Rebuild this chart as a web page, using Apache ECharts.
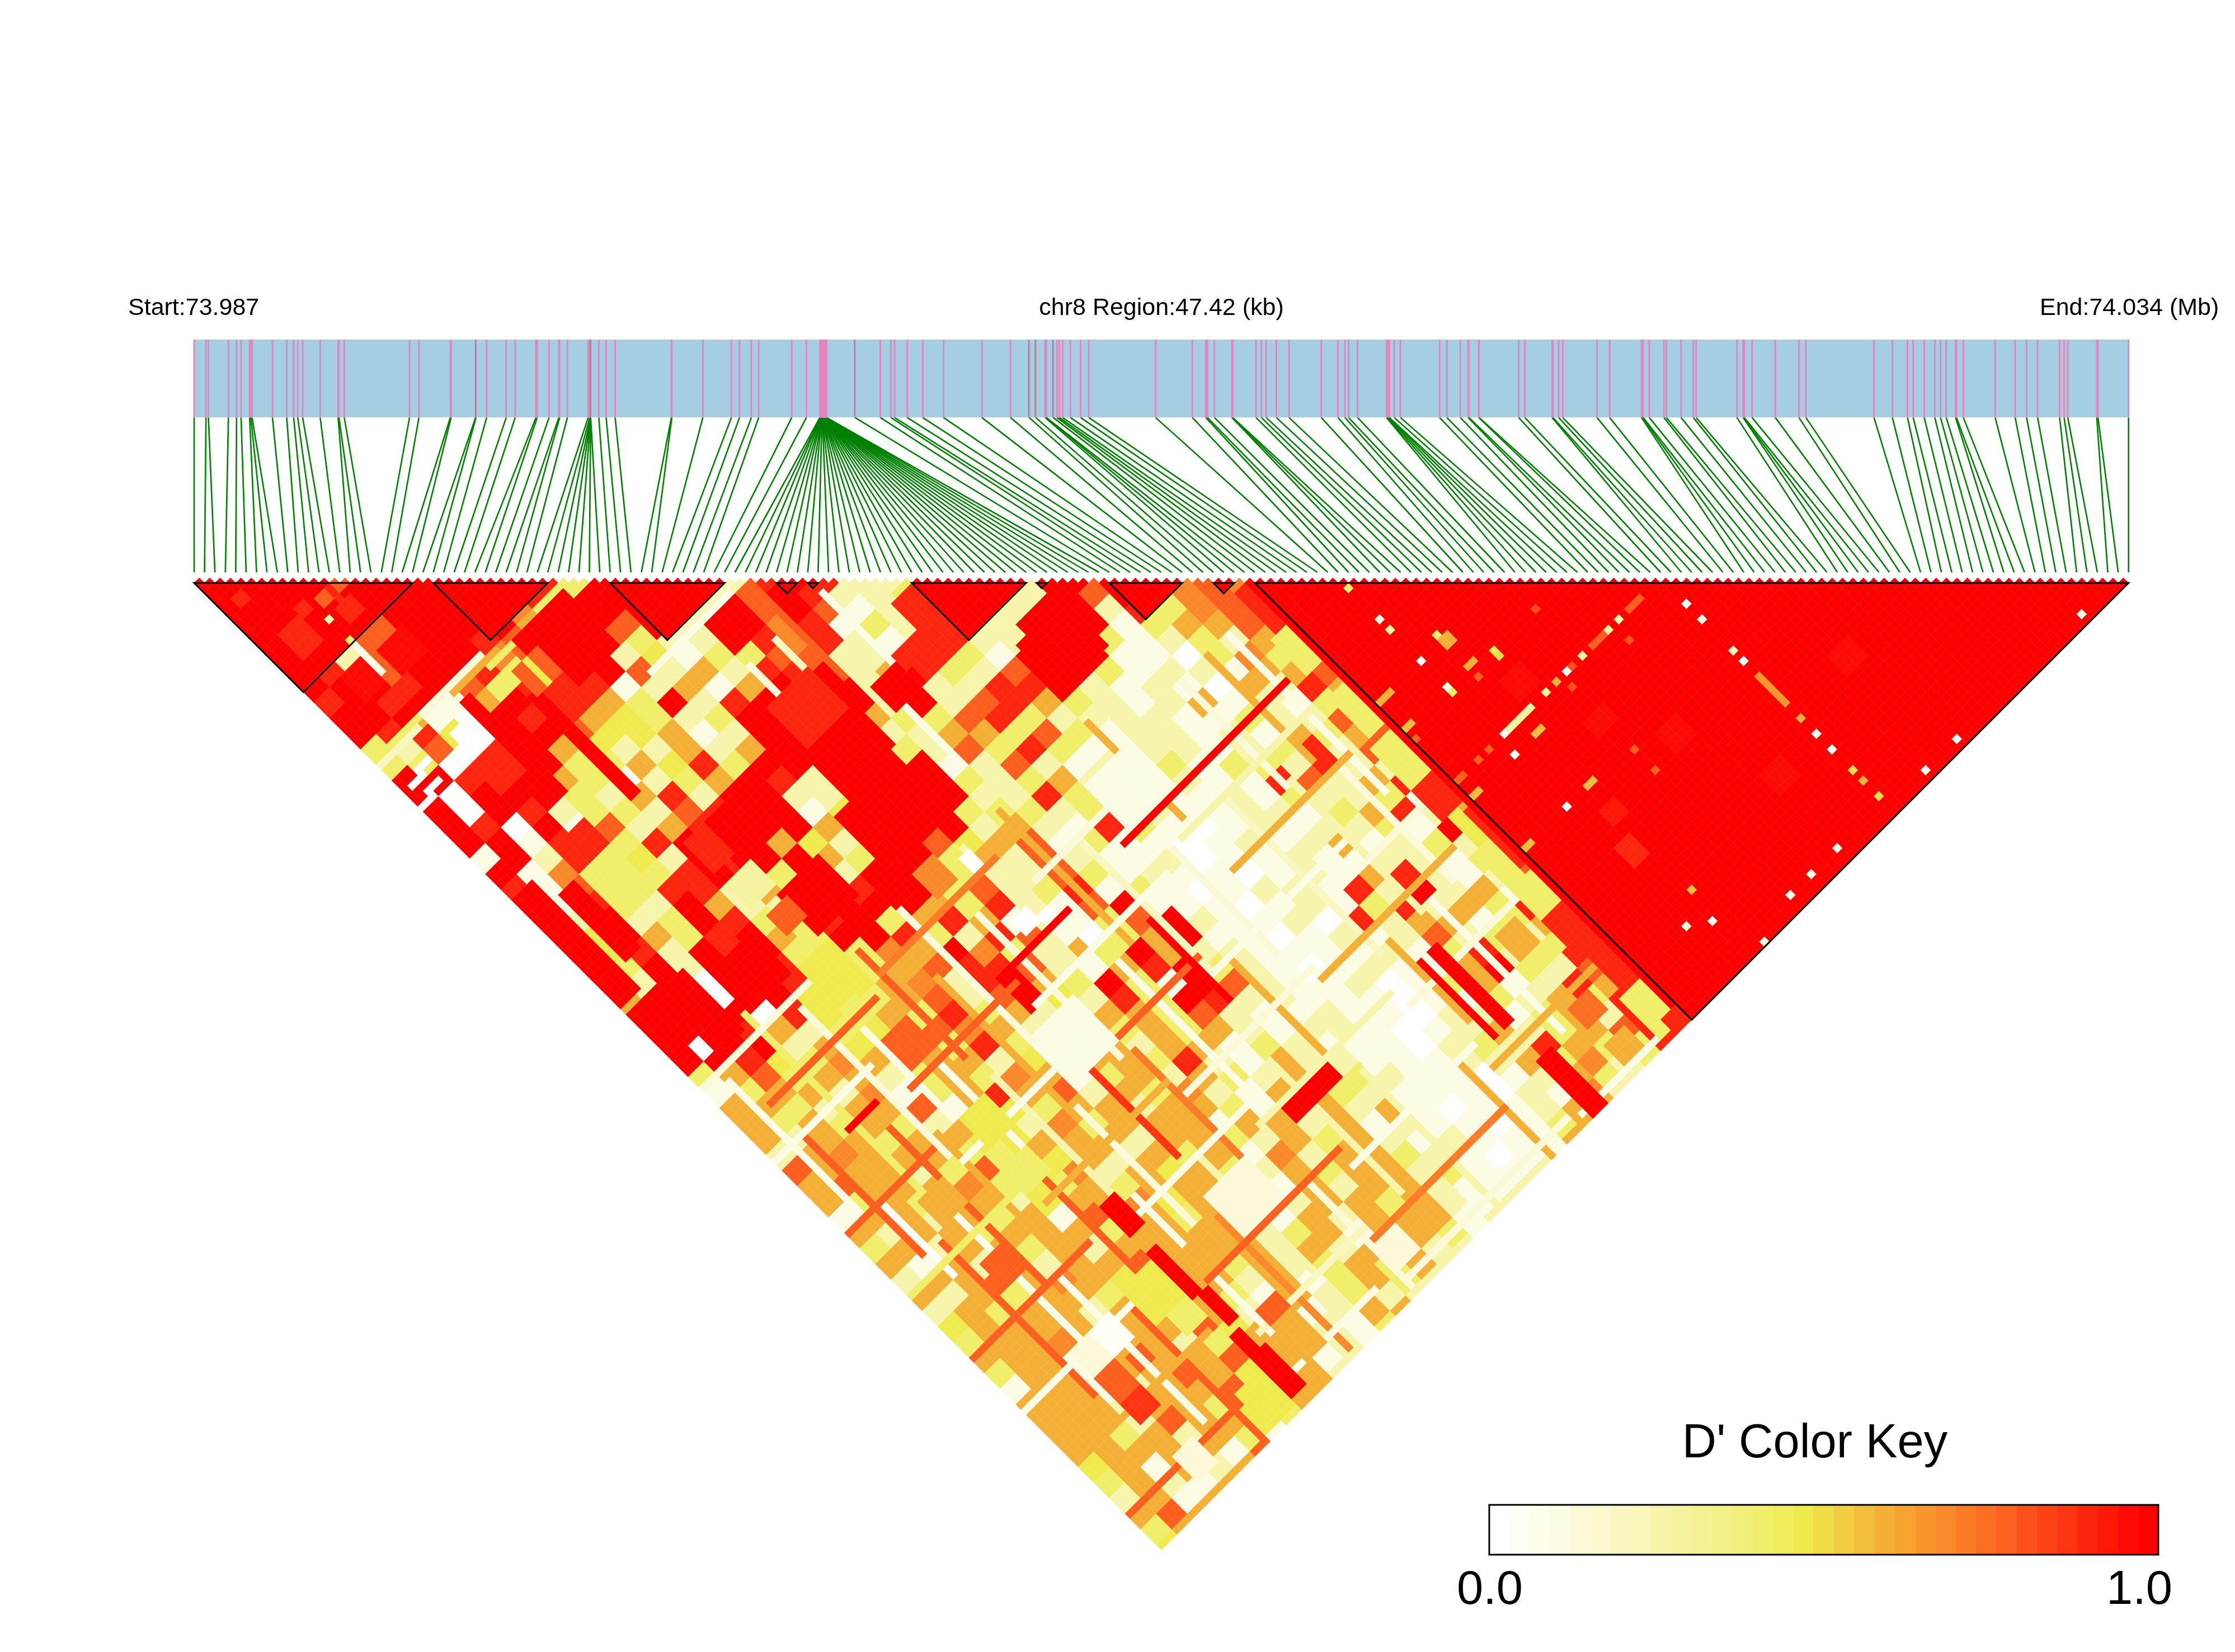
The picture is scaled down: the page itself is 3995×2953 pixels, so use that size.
<!DOCTYPE html>
<html><head><meta charset="utf-8">
<style>html,body{margin:0;padding:0;background:#fff}#c{width:3995px;height:2953px}</style>
<script src="https://cdn.jsdelivr.net/npm/echarts@6/dist/echarts.min.js"></script>
</head><body><div id="c"></div>
<script>
// SNP positions along the region, kb from start
const snpKb = [0,.29,.35,.84,1.04,1.15,1.36,1.39,1.42,1.92,2.27,2.44,2.54,2.66,3.09,3.53,3.55,3.68,
5.28,5.51,6.28,6.30,6.90,6.91,7.17,7.65,7.87,8.38,8.41,8.70,8.94,8.96,9.15,9.66,9.70,9.72,9.72,9.72,9.72,9.72,9.92,10.10,10.32,11.70,11.71,12.47,13.17,13.37,13.66,13.84,14.65,15.01,
15.34,15.35,15.35,15.36,15.37,15.37,15.38,15.38,15.39,15.40,15.40,15.41,15.41,15.42,15.42,15.42,15.43,15.43,15.44,15.44,15.45,15.45,15.45,15.46,15.46,15.47,15.47,15.47,15.48,15.48,15.48,15.49,15.49,15.49,15.50,15.50,
16.20,16.82,17.08,17.17,17.48,17.86,18.37,19.31,20.01,20.47,20.63,20.86,20.88,20.89,21.06,21.15,21.21,21.29,21.48,21.73,21.93,23.57,
24.47,24.80,24.84,25.01,25.44,25.45,25.46,26.03,26.16,26.28,26.53,26.84,27.63,28.04,28.21,28.30,28.52,29.23,29.25,29.27,29.29,29.30,29.42,29.57,
30.53,30.71,31.04,31.23,31.25,31.49,31.50,32.47,32.62,33.29,33.31,33.45,33.55,34.39,34.70,35.48,35.50,35.52,35.67,36.03,36.09,36.45,36.75,36.82,37.82,37.97,37.98,38.00,38.19,38.76,39.34,39.51,
41.18,41.63,42.00,42.14,42.41,42.67,42.81,42.95,43.18,43.20,43.37,44.15,44.64,44.92,45.19,45.73,45.84,45.93,46.64,46.67,47.42];
const grayMarksKb = [6.91,9.72,16.20,20.47,20.63,21.06];
const regionKb = 47.42;
const nSnp = snpKb.length;

// Haplotype blocks: first and last SNP index
const blockFirst = [0,23,40,56,59,69,81,88,98,102];
const blockLast  = [21,34,51,58,60,80,82,95,100,186];

// Colour key, low to high
const keyColors = ["#FFFFFF","#FEFEF6","#FDFDE9","#FCFBE3","#FBF9D8","#FAF8CF","#F9F7BF","#F8F6B8","#F7F4AC","#F6F3A0","#F5F192","#F4F088","#F2EF78","#F1EE6A","#F0ED5C","#EFEB4E","#F0DC45","#F3CC3F","#F3BD3B","#F4B036","#F6A330","#F8962C","#F9892A","#FA7C26","#FB6F22","#FC5F1E","#FC521A","#FD4316","#FE3412","#FE260E","#FF1808","#FF0A04","#FF0000"];
const keyLabels = ["0.0","1.0"];
const keyTitle = "D' Color Key";
const labelStart = "Start:73.987", labelMiddle = "chr8 Region:47.42 (kb)", labelEnd = "End:74.034 (Mb)";

// D' in 3-SNP groups. Each string is one picture row
// (group distance 0,1,2,...); each digit one group, left to right, on the scale below.
const digitD = [0,.12,.25,.4,.48,.58,.68,.78,.9,1];
const groupRows = [
"9999999999983999928982299999999976","9999899999839999279822389829798678","9998999996399999979712789299283678",
"9898799995997919868132882999135578","9897799879973229868218822993123258","8927999679924133772288319991103638",
"9817998378972528892593279931221557","9998973888125159892922889212105285","8989159985392898992927853212512138",
"9992098854323999953378322221132277","9884099744512999922553731221215357","3270895422525999332738311221238275",
"3308893354839999991272121313328226","9988953123598299993235211211872581","9099932582992299992283221121322317",
"9098233278991499933323121122135825","9809172588995399925218310121223198","9918438989542997457131101212512325",
"1928442989953993527211201121122138","9164438923629953227312110121582127","8174388258989937238131012218292518",
"9183295227999538217911101213825383","9292398338935851013792112082551359","9495389539983287103591101212723238",
"9482989343659632539522111121382382","9392998443578872158932101211593273","9290898445628953931972112013512858",
"5990994335727942839822111011325389","9999084353835215537211211022135288","9998523457652153535212210125235788",
"909925456383125255132111023285338","99843653552415538215221112253623","3573552353651352532553211012532",
"135526135857253621553211102162","55325571443552553155251011255","53535325426355515525121101 35",
"525535544555255325352121115","25655533545253516255321011","7555237446254532535523112",
"575556343535553152552112","53535524556452525535212","1552535175535315255512",
"525535553555523515531","35255352555252525522","5152525575535235352",
"255756544552513532","52535534453152322","2535525445251255",
"455557557455213","35562552355321","5551575575512",
"355155754552","15512557455","5552553445","555275543","55352531","5555517","451525","35215","2515","575","35","4"];

// Thin lines of one SNP: SNP i, firstJ, lastJ, D'
const rowStripes = [
[3,100,125,.12],[5,112,135,.78],[6,126,140,.05],[8,136,165,.78],[11,95,128,.4],[12,135,158,.12],[14,120,150,.78],[16,150,178,.12],[17,100,128,.15],[18,125,152,.58],
[20,160,185,.78],[21,108,125,.12],[24,140,160,.78],[25,118,135,.12],[28,100,120,.78],[29,125,147,.25],[31,150,176,.12],[33,110,135,.58],[34,136,158,.15],[36,100,125,.15],
[37,160,185,.68],[39,126,150,.85],[41,152,175,.25],[43,108,135,.15],[45,136,160,.7],[48,100,122,.25],[49,165,185,.15],[52,126,150,.12],[55,100,125,.58],[57,150,175,.25],
[60,110,135,.2],[63,136,155,.6],[65,160,185,.25],[68,120,140,.15],[70,145,165,.12],[72,100,118,.6],[75,168,186,.6],[78,120,150,.2],[80,150,165,.58],[85,105,125,.15],
[86,125,150,.25],[88,150,175,.12],[90,105,125,.58],[92,128,150,.15],[94,105,135,.12],[59,62,75,.1],[45,62,72,.15],[50,62,72,.2],[56,81,90,.12],[53,60,72,.78]];
// Same for the other direction: SNP j, firstI, lastI, D'
const colStripes = [
[98,0,22,.15],[104,28,50,.7],[106,5,25,.78],[110,52,70,.15],[112,0,18,.12],[118,20,40,.78],[120,70,95,.25],[122,40,65,.12],[126,0,16,.78],[128,72,94,.58],
[130,18,38,.12],[133,40,60,.78],[136,60,85,.12],[138,0,20,.4],[140,85,99,.15],[142,22,45,.58],[145,46,70,.15],[147,70,95,.58],[150,0,22,.78],[152,28,50,.12],
[155,50,75,.25],[158,76,95,.15],[160,0,20,.12],[165,30,55,.78],[168,55,78,.12],[170,0,25,.58],[172,78,97,.58],[175,30,50,.2],[177,50,75,.7],[180,0,22,.78],
[182,25,45,.12],[184,50,80,.15],[185,82,97,.12],[52,40,51,.2],[53,35,50,.12],[35,0,8,.4],[36,0,7,.2],[35,9,20,.15],[36,8,22,.58],[37,20,33,.4]];

// Finer features: firstI,lastI,firstJ,lastJ,D'
const patches = [
[10,14,14,15,.78],[11,13,17,19,.9],[3,6,14,18,.9],[9,9,17,17,.25],[9,9,21,21,.4],[12,12,14,16,.9],[2,3,6,7,.9],[7,8,13,14,.9],
[9,13,22,26,.78],[9,9,22,27,.12],[5,8,24,28,.95],[11,15,25,29,.95],
[9,13,36,38,.12],[10,13,40,41,0],[10,13,43,44,0],[7,9,44,44,0],[9,13,46,50,.9],[3,5,40,40,0],[1,3,41,41,0],[2,4,43,43,0],[0,2,44,44,0],
[14,15,38,56,1],[21,22,44,63,1],[25,34,37,47,1],[22,26,40,44,.78],[24,24,40,44,.48],[23,26,45,49,.9],
[45,50,55,59,1],[43,50,68,75,.9],[42,51,76,83,1],[55,59,76,80,1],[39,49,85,95,1],[26,33,87,94,1],[23,26,88,91,.78],
[73,81,86,94,1],[65,68,70,79,.9],[61,65,76,80,.9],[25,32,73,80,1],[22,25,73,78,.9],[22,26,81,85,.3],[12,19,88,95,1],[5,9,85,96,1],
[0,3,62,82,1],[5,7,66,78,1],[9,14,66,71,.4],[10,14,61,65,.9],[21,26,97,103,.48],[22,26,126,131,.48],[21,25,135,139,.4],
[22,26,158,164,.48],[27,28,157,165,1],[22,26,179,183,.48],[27,29,177,184,1],[39,52,116,116,1],[64,95,115,115,1],[10,15,116,116,1],
[59,59,125,140,1],[54,62,156,158,1],[83,85,176,186,1],[83,84,155,169,1],[81,81,155,169,1],[37,44,125,133,.12],[66,74,106,114,.12],
[46,48,112,114,0],[47,48,101,103,0],[41,44,98,102,.68],[22,26,111,116,.78],[27,29,148,153,1],[28,29,166,171,1],[27,28,173,178,1],
[10,14,130,134,.58],[10,13,142,146,.78],[10,14,159,163,.15],[10,13,164,168,.78],[10,13,169,172,.85],[10,13,179,183,.15],[14,17,159,163,.05],[23,26,165,168,.4],
[32,35,179,182,.58],[31,35,160,164,.58],[38,45,157,164,.15],[50,53,178,182,.15],[32,35,173,175,.78],[91,94,160,164,.58],[91,94,181,184,.58],[91,94,174,177,.75],
[101,101,102,186,.97],[98,100,110,116,.4],[98,100,121,128,.4],[97,100,130,137,.4],[97,100,138,143,.9],[98,99,144,150,.48],[100,100,145,152,.9],
[97,99,150,156,.4],[97,100,157,165,.4],[97,100,163,169,.88],[98,100,169,176,.88],[97,100,178,185,.4],[99,101,184,186,.9],
[110,110,112,112,.4],[110,110,118,118,.15],[110,110,120,120,.3],[114,115,126,127,.58],[110,110,126,126,.05],[126,126,132,132,.8],[133,133,141,141,.25],
[131,131,141,141,.3],[128,130,141,141,.78],[126,126,141,141,.3],[135,137,141,141,.78],[132,132,144,144,.8],[123,123,141,141,0],[124,124,141,141,.8],
[121,121,141,141,.6],[119,119,141,141,.3],[122,122,143,143,.8],[118,118,132,132,.48],[118,118,133,133,.5],[114,115,131,131,.6],[114,114,133,133,.78],
[110,110,131,131,.1],[110,110,132,132,.45],[102,104,126,126,.58],[102,103,131,131,.55],[102,102,133,133,.78],[111,111,141,141,.05],[112,116,141,141,.3],
[114,115,144,144,.55],[108,108,141,141,.78],[110,110,144,144,.05],[106,106,141,141,.78],[122,122,155,155,.78],[122,122,159,159,.78],[114,115,154,154,.55],
[110,110,154,154,.05],[102,103,141,141,.78],[102,103,144,144,.55],[102,103,154,154,.55],
[141,141,146,146,.05],[141,141,149,149,.1],[141,141,155,155,.2],[141,141,157,157,.05],[141,141,160,165,.65],[141,141,168,168,.6],[141,141,171,171,.05],
[141,141,174,174,.05],[141,141,178,178,.5],[141,141,180,180,.6],[141,141,183,183,.5],[111,113,163,166,.9],[110,110,177,177,.1],[114,114,174,174,.55],
[113,113,179,179,.05],[116,116,186,186,.1],[123,123,184,184,.05],[127,127,184,184,.1],[132,132,184,184,.1],[148,148,185,185,.05],[154,154,185,185,.05],
[178,178,185,185,.1],[114,114,125,125,.4],[120,123,148,150,.95],[116,119,136,139,.95],[126,129,156,159,.95],[150,153,165,168,.95],[113,115,158,160,.93],[132,135,170,173,.95]
];

const S = 18.59, X0 = 347, Y0 = 1042;
function cellValue(i, j) {
  const I = Math.floor(i / 3), J = Math.floor(j / 3);
  const row = groupRows[J - I].replace(/ /g, '');
  const ch = row[I];
  return ch === undefined ? 1 : digitD[+ch];
}
const dm = [];
for (let i = 0; i < nSnp; i++) { dm[i] = []; for (let j = i + 1; j < nSnp; j++) dm[i][j] = cellValue(i, j); }
function paint(a, b, c, d, v) { for (let i = a; i <= b; i++) for (let j = Math.max(c, i + 1); j <= d; j++) dm[i][j] = v; }
blockFirst.forEach((f, k) => paint(f, blockLast[k], f, blockLast[k], 1));
rowStripes.forEach(s => paint(s[0], s[0], s[1], s[2], s[3]));
colStripes.forEach(s => paint(s[1], s[2], s[0], s[0], s[3]));
patches.forEach(p => paint(...p));
const cells = [];
for (let i = 0; i < nSnp; i++) for (let j = i + 1; j < nSnp; j++) cells.push([i, j, dm[i][j]]);
const colorOf = v => keyColors[Math.min(keyColors.length - 1, Math.floor(v * keyColors.length))];
const lineStyle = (c, w) => ({ stroke: c, lineWidth: w });

const chart = echarts.init(document.getElementById('c'), null, { renderer: 'canvas' });
const font = 'Liberation Sans, Arial, sans-serif';
const txt = (t, x, y, size, align) => ({ type: 'text', x, y, silent: true,
  style: { text: t, fontFamily: font, fontSize: size, fill: '#000', textAlign: align, textVerticalAlign: 'middle' } });
chart.setOption({
  animation: false, backgroundColor: '#fff',
  grid: [
    { left: X0, top: Y0, width: S * (nSnp - 1), height: S * (nSnp - 2) / 2, show: false },
    { left: X0, top: 607, width: S * (nSnp - 1), height: 416, show: false },
    { left: 2662, top: 2690, width: 1196, height: 89, show: false }
  ],
  xAxis: [
    { type: 'value', gridIndex: 0, min: 0, max: nSnp - 1, show: false },
    { type: 'value', gridIndex: 1, min: 0, max: regionKb, show: false },
    { type: 'value', gridIndex: 2, min: 0, max: keyColors.length, show: false }
  ],
  yAxis: [
    { type: 'value', gridIndex: 0, min: 0, max: (nSnp - 2) / 2, inverse: true, show: false },
    { type: 'value', gridIndex: 1, min: 0, max: 1, show: false },
    { type: 'value', gridIndex: 2, min: 0, max: 1, show: false }
  ],
  series: [
    { type: 'custom', xAxisIndex: 1, yAxisIndex: 1, silent: true, data: [[0, regionKb]], z: 1,
      renderItem: (p, api) => { const a = api.coord([api.value(0), 1]), b = api.coord([api.value(1), .665]);
        return { type: 'rect', shape: { x: a[0], y: a[1], width: b[0] - a[0], height: b[1] - a[1] }, style: { fill: '#A6CEE3' } }; } },
    { type: 'custom', xAxisIndex: 1, yAxisIndex: 1, silent: true, progressive: 0, z: 2, data: snpKb.map((k, n) => [k, n]),
      renderItem: (p, api) => { const a = api.coord([api.value(0), .665]), b = api.coord([api.value(1) * regionKb / (nSnp - 1), 0]);
        return { type: 'line', shape: { x1: a[0], y1: a[1], x2: b[0], y2: b[1] }, style: lineStyle('#008000', 2.6) }; } },
    { type: 'custom', xAxisIndex: 1, yAxisIndex: 1, silent: true, progressive: 0, z: 3, data: snpKb.map(k => [k]),
      renderItem: (p, api) => { const a = api.coord([api.value(0), 1]), b = api.coord([api.value(0), .665]);
        return { type: 'line', shape: { x1: a[0], y1: a[1], x2: b[0], y2: b[1] }, style: lineStyle('#E187BF', 3) }; } },
    { type: 'custom', xAxisIndex: 1, yAxisIndex: 1, silent: true, z: 4, data: grayMarksKb.map(k => [k]),
      renderItem: (p, api) => { const a = api.coord([api.value(0), 1]), b = api.coord([api.value(0), .665]);
        return { type: 'line', shape: { x1: a[0] - 1, y1: a[1], x2: b[0] - 1, y2: b[1] }, style: lineStyle('#7F8C80', 1.5) }; } },
    { type: 'custom', xAxisIndex: 0, yAxisIndex: 0, silent: true, progressive: 0, z: 5, data: cells,
      renderItem: (p, api) => {
        const i = api.value(0), j = api.value(1), v = api.value(2);
        const x = (i + j) / 2, y = (j - i - 1) / 2;
        const c = colorOf(v);
        return { type: 'polygon', shape: { points: [api.coord([x - .5, y]), api.coord([x, y - .5]), api.coord([x + .5, y]), api.coord([x, y + .5])] },
          style: { fill: c, stroke: c, lineWidth: .5 } };
      } },
    { type: 'custom', xAxisIndex: 0, yAxisIndex: 0, silent: true, z: 6, data: blockFirst.map((f, k) => [f, blockLast[k]]),
      renderItem: (p, api) => { const f = api.value(0), l = api.value(1);
        return { type: 'polygon', shape: { points: [api.coord([f, 0]), api.coord([l, 0]), api.coord([(f + l) / 2, (l - f) / 2])] },
          style: { fill: 'none', stroke: '#000', lineWidth: 3 } }; } },
    { type: 'custom', xAxisIndex: 2, yAxisIndex: 2, silent: true, z: 5, data: keyColors.map((c, n) => [n]),
      renderItem: (p, api) => { const n = api.value(0), a = api.coord([n, 1]), b = api.coord([n + 1, 0]);
        return { type: 'rect', shape: { x: a[0], y: a[1], width: b[0] - a[0], height: b[1] - a[1] }, style: { fill: keyColors[n], stroke: keyColors[n], lineWidth: .5 } }; } },
    { type: 'custom', xAxisIndex: 2, yAxisIndex: 2, silent: true, z: 6, data: [[0, keyColors.length]],
      renderItem: (p, api) => { const a = api.coord([api.value(0), 1]), b = api.coord([api.value(1), 0]);
        return { type: 'rect', shape: { x: a[0], y: a[1], width: b[0] - a[0], height: b[1] - a[1] }, style: { fill: 'none', stroke: '#000', lineWidth: 3 } }; } }
  ],
  graphic: [
    txt(labelStart, 229, 551, 43, 'left'),
    txt(labelMiddle, 2076, 551, 43, 'center'),
    txt(labelEnd, 3646, 551, 43, 'left'),
    txt(keyTitle, 3244, 2582, 85, 'center'),
    txt(keyLabels[0], 2663, 2844, 85, 'center'),
    txt(keyLabels[1], 3824, 2844, 85, 'center')
  ]
});
</script></body></html>
